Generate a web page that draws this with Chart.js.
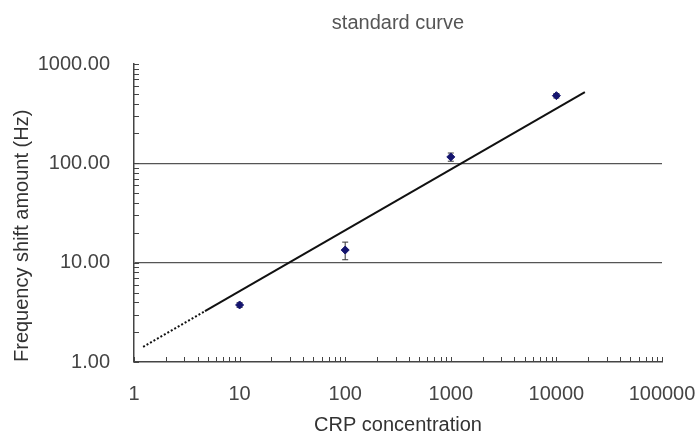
<!DOCTYPE html>
<html>
<head>
<meta charset="utf-8">
<title>standard curve</title>
<script src="https://cdn.jsdelivr.net/npm/chart.js@4.4.1/dist/chart.umd.min.js"></script>
<style>
  html, body { margin: 0; padding: 0; background: #fff; }
  canvas { display: block; }
</style>
</head>
<body>
<canvas id="curveChart" width="696" height="439"></canvas>
<script>
// --- data ---
const concentrations = [10, 100, 1000, 10000];
const shiftValues = [3.75, 13.4, 116, 480];
const shiftErrors = [0.2, 2.7, 11, 25];

// fitted power-law line: dotted start, then solid
const trendDottedX = [1.22, 4.7];
const trendDottedY = [1.42, 3.25];
const trendSolidX = [4.7, 18600];
const trendSolidY = [3.25, 520];

const xTickLabels = { 1: '1', 10: '10', 100: '100', 1000: '1000', 10000: '10000', 100000: '100000' };
const yTickLabels = { 1: '1.00', 10: '10.00', 100: '100.00', 1000: '1000.00' };
const yGridValues = [10, 100];

const FONT = 'Liberation Sans, Arial, sans-serif';
const TEXT = '#444';
const AXIS = '#444';

const toPoints = (xs, ys) => xs.map((x, i) => ({ x, y: ys[i] }));

// little tick marks that sit inside the plot, plus error bars
const innerTicksPlugin = {
    id: 'innerTicks',
    afterDraw(chart) {
        const { ctx, chartArea, scales } = chart;
        const xs = scales.x, ys = scales.y;
        ctx.save();
        ctx.strokeStyle = AXIS;
        ctx.lineWidth = 1;
        for (let d = 1; d < 100000; d *= 10) {
            for (let m = 1; m <= 10; m++) {
                const px = Math.round(xs.getPixelForValue(d * m)) + 0.5;
                ctx.beginPath();
                ctx.moveTo(px, chartArea.bottom);
                ctx.lineTo(px, chartArea.bottom - 5);
                ctx.stroke();
            }
        }
        for (let d = 1; d < 1000; d *= 10) {
            for (let m = 1; m <= 10; m++) {
                const py = Math.round(ys.getPixelForValue(d * m)) + 0.5;
                ctx.beginPath();
                ctx.moveTo(chartArea.left, py);
                ctx.lineTo(chartArea.left + 5, py);
                ctx.stroke();
            }
        }
        ctx.restore();
    },
    beforeDatasetsDraw(chart) {
        const { ctx, scales } = chart;
        ctx.save();
        ctx.strokeStyle = '#333';
        ctx.lineWidth = 1;
        concentrations.forEach((c, i) => {
            const px = scales.x.getPixelForValue(c);
            const top = scales.y.getPixelForValue(shiftValues[i] + shiftErrors[i]);
            const bot = scales.y.getPixelForValue(shiftValues[i] - shiftErrors[i]);
            ctx.beginPath();
            ctx.moveTo(px, top); ctx.lineTo(px, bot);
            ctx.moveTo(px - 3, top); ctx.lineTo(px + 3, top);
            ctx.moveTo(px - 3, bot); ctx.lineTo(px + 3, bot);
            ctx.stroke();
        });
        ctx.restore();
    }
};

new Chart(document.getElementById('curveChart'), {
    type: 'scatter',
    data: {
        datasets: [
            {
                label: 'fit (extrapolated)',
                data: toPoints(trendDottedX, trendDottedY),
                xAxisID: 'x',
                yAxisID: 'y',
                showLine: true,
                borderColor: '#111',
                borderWidth: 2,
                borderDash: [2, 2],
                pointRadius: 0
            },
            {
                label: 'fit',
                data: toPoints(trendSolidX, trendSolidY),
                xAxisID: 'x',
                yAxisID: 'y',
                showLine: true,
                borderColor: '#111',
                borderWidth: 2,
                pointRadius: 0
            },
            {
                label: 'measured',
                data: toPoints(concentrations, shiftValues),
                xAxisID: 'x',
                yAxisID: 'y',
                pointStyle: 'rectRot',
                pointRadius: 4,
                backgroundColor: '#14146e',
                borderColor: '#14146e',
                borderWidth: 1
            }
        ]
    },
    options: {
        responsive: false,
        animation: false,
        devicePixelRatio: 1,
        layout: { padding: 0 },
        plugins: {
            legend: { display: false },
            tooltip: { enabled: false }
        },
        scales: {
            x: {
                type: 'logarithmic',
                position: 'bottom',
                min: 1,
                max: 100000,
                grid: { color: 'rgba(0,0,0,0)', drawTicks: false },
                border: { display: true, color: AXIS, width: 1.5 },
                ticks: {
                    autoSkip: false,
                    maxRotation: 0,
                    padding: 20,
                    color: TEXT,
                    font: { family: FONT, size: 20 },
                    callback: (v) => xTickLabels[v] || ''
                },
                title: {
                    display: true,
                    text: 'CRP concentration',
                    color: '#333',
                    font: { family: FONT, size: 20 },
                    padding: { top: 0, bottom: 2 }
                },
                afterFit: (scale) => {
                    scale.height = 77;
                    scale.paddingRight = 34;
                }
            },
            y: {
                type: 'logarithmic',
                position: 'left',
                min: 1,
                max: 1000,
                grid: {
                    drawTicks: false,
                    lineWidth: 1.2,
                    color: (c) => yGridValues.includes(c.tick && c.tick.value) ? '#555' : 'rgba(0,0,0,0)'
                },
                border: { display: true, color: AXIS, width: 1.5 },
                ticks: {
                    autoSkip: false,
                    padding: 24,
                    color: TEXT,
                    font: { family: FONT, size: 20 },
                    callback: (v) => yTickLabels[v] || ''
                },
                title: {
                    display: true,
                    text: 'Frequency shift amount (Hz)',
                    align: 'start',
                    color: '#333',
                    font: { family: FONT, size: 20 },
                    padding: { top: 10, bottom: 0 }
                },
                afterFit: (scale) => { scale.width = 134; }
            },
            // carries the chart title so it centres over the plot area
            titleAxis: {
                type: 'linear',
                position: 'top',
                grid: { display: false },
                border: { display: false },
                ticks: { display: false },
                title: {
                    display: true,
                    text: 'standard curve',
                    color: '#555',
                    font: { family: FONT, size: 20 },
                    padding: { top: 11, bottom: 0 }
                },
                afterFit: (scale) => { scale.height = 64; }
            }
        }
    },
    plugins: [innerTicksPlugin]
});
</script>
</body>
</html>
